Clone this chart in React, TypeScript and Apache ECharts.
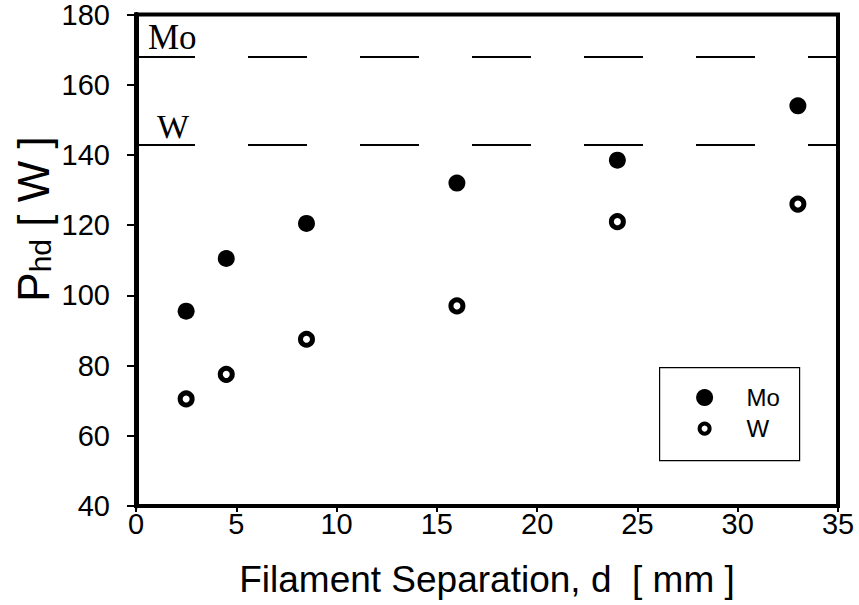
import React, { useEffect, useRef } from "react";
import * as echarts from "echarts";

// Filament separation d [mm]
const separation = [2.5, 4.5, 8.5, 16, 24, 33];
// P_hd [W] for Mo filaments
const moPower = [95.5, 110.5, 120.5, 132, 138.5, 154];
// P_hd [W] for W filaments
const wPower = [70.5, 77.5, 87.5, 97, 121, 126];
// Reference levels (dashed lines)
const moLevel = 168;
const wLevel = 143;
const seriesNames = ["Mo", "W"];

const SANS = "Liberation Sans, Arial, sans-serif";
const SERIF = "Liberation Serif, Times New Roman, serif";

export default function App() {
  const ref = useRef<HTMLDivElement>(null);
  useEffect(() => {
    if (!ref.current) return;
    const chart = echarts.init(ref.current, null, { renderer: "svg" });
    const moData = separation.map((x, i) => [x, moPower[i]]);
    const wData = separation.map((x, i) => [x, wPower[i]]);
    const dash = { color: "#000", width: 2, type: [59, 53] as any };
    chart.setOption({
      animation: false,
      backgroundColor: "#fff",
      grid: {
        left: 136,
        top: 14,
        width: 702,
        height: 492,
        show: true,
        borderColor: "#000",
        borderWidth: 4,
        backgroundColor: "transparent",
      },
      xAxis: {
        type: "value",
        min: 0,
        max: 35,
        interval: 5,
        name: "Filament Separation, d  [ mm ]",
        nameLocation: "middle",
        nameGap: 55,
        nameTextStyle: { fontFamily: SANS, fontSize: 37, color: "#000" },
        axisLine: { show: true, lineStyle: { color: "#000", width: 4 } },
        axisTick: { show: true, inside: false, length: 6, lineStyle: { color: "#000", width: 2 } },
        axisLabel: { margin: 3, fontFamily: SANS, fontSize: 29, color: "#000" },
        splitLine: { show: false },
      },
      yAxis: {
        type: "value",
        min: 40,
        max: 180,
        interval: 20,
        axisLine: { show: true, lineStyle: { color: "#000", width: 5 } },
        axisTick: { show: true, inside: false, length: 9, lineStyle: { color: "#000", width: 2 } },
        axisLabel: { margin: 26, fontFamily: SANS, fontSize: 29, color: "#000" },
        splitLine: { show: false },
      },
      graphic: [
        {
          type: "text",
          x: 33,
          y: 219,
          rotation: Math.PI / 2,
          style: {
            text: "{a|P}{b|hd}{a| [ W ]}",
            align: "center",
            verticalAlign: "middle",
            fill: "#000",
            rich: {
              a: { fontFamily: SANS, fontSize: 44, lineHeight: 44, verticalAlign: "bottom", fill: "#000" },
              b: { fontFamily: SANS, fontSize: 30, lineHeight: 34, verticalAlign: "bottom", fill: "#000" },
            },
          },
        },
        // legend box
        {
          type: "group",
          left: 659,
          top: 367,
          children: [
            {
              type: "rect",
              shape: { x: 0, y: 0, width: 140, height: 93 },
              style: { fill: "#fff", stroke: "#000", lineWidth: 1.2 },
            },
            {
              type: "circle",
              shape: { cx: 45, cy: 30, r: 8.5 },
              style: { fill: "#000" },
            },
            {
              type: "text",
              x: 87,
              y: 30,
              style: { text: seriesNames[0], fontFamily: SANS, fontSize: 24, fill: "#000", verticalAlign: "middle", align: "left" },
            },
            {
              type: "circle",
              shape: { cx: 45, cy: 61, r: 5 },
              style: { fill: "#fff", stroke: "#000", lineWidth: 4 },
            },
            {
              type: "text",
              x: 87,
              y: 61,
              style: { text: seriesNames[1], fontFamily: SANS, fontSize: 24, fill: "#000", verticalAlign: "middle", align: "left" },
            },
          ],
        },
      ],
      series: [
        {
          name: seriesNames[0],
          type: "scatter",
          symbol: "circle",
          symbolSize: 17,
          itemStyle: { color: "#000", opacity: 1 },
          data: moData,
          z: 3,
          markLine: {
            silent: true,
            symbol: ["none", "none"],
            lineStyle: dash,
            label: {
              show: true,
              position: "insideStartTop",
              distance: [12, 2],
              formatter: "Mo",
              fontFamily: SERIF,
              fontSize: 35,
              color: "#000",
            },
            data: [{ yAxis: moLevel }],
          },
        },
        {
          name: seriesNames[1],
          type: "scatter",
          symbol: "circle",
          symbolSize: 12,
          itemStyle: { color: "#fff", borderColor: "#000", borderWidth: 5, opacity: 1 },
          data: wData,
          z: 3,
          markLine: {
            silent: true,
            symbol: ["none", "none"],
            lineStyle: dash,
            label: {
              show: true,
              position: "insideStartTop",
              distance: [21, 1],
              formatter: "W",
              fontFamily: SERIF,
              fontSize: 34,
              color: "#000",
            },
            data: [{ yAxis: wLevel }],
          },
        },
      ],
    });
    return () => chart.dispose();
  }, []);
  return (
    <div
      ref={ref}
      style={{ position: "fixed", left: 0, top: 0, width: 859, height: 605, background: "#fff" }}
    />
  );
}
